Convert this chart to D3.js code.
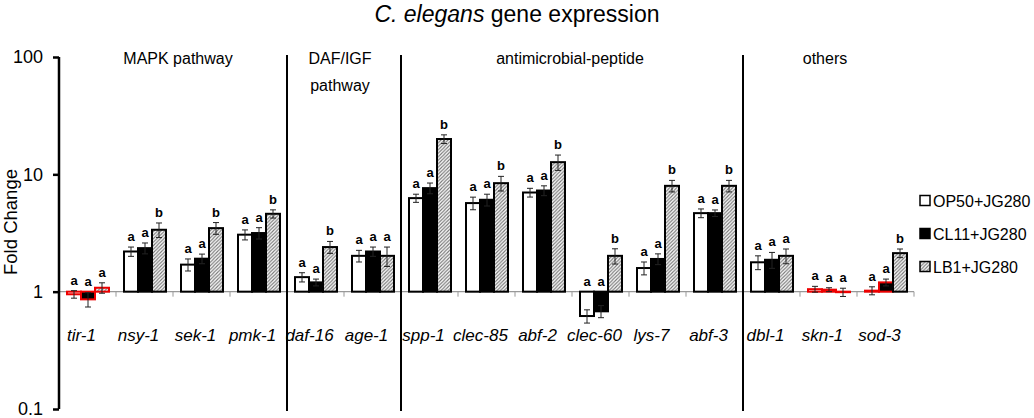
<!DOCTYPE html>
<html lang="en">
<head>
    <meta charset="UTF-8">
    <title>C. elegans gene expression</title>
    <script src="https://d3js.org/d3.v7.min.js"></script>
    <style>
        body { margin: 0; background: #fff; }
        text { font-family: Arial, "Liberation Sans", sans-serif; fill: #000; }
    </style>
</head>
<body>
<script>
    const width = 1034;
    const height = 418;

    // Genes (x categories)
    const genes = ['tir-1', 'nsy-1', 'sek-1', 'pmk-1', 'daf-16', 'age-1', 'spp-1', 'clec-85',
        'abf-2', 'clec-60', 'lys-7', 'abf-3', 'dbl-1', 'skn-1', 'sod-3'];

    // Pathway groups and the gene each one starts at
    const groupNames = ['MAPK pathway', 'DAF/IGF|pathway', 'antimicrobial-peptide', 'others'];
    const groupStarts = ['tir-1', 'daf-16', 'spp-1', 'dbl-1'];

    const seriesNames = ['OP50+JG280', 'CL11+JG280', 'LB1+JG280'];

    // fold change values
    const op50 = [0.95, 2.2, 1.70, 3.06, 1.33, 2.02, 6.27, 5.69, 7.0, 0.62, 1.59, 4.67, 1.78, 1.05, 1.02];
    const cl11 = [0.86, 2.35, 1.91, 3.16, 1.20, 2.20, 7.63, 6.07, 7.28, 0.68, 1.90, 4.67, 1.87, 1.04, 1.20];
    const lb1 = [1.08, 3.37, 3.48, 4.61, 2.40, 2.02, 20.0, 8.41, 12.7, 2.02, 7.98, 7.98, 2.02, 0.99, 2.13];

    // error bars
    const op50Err = [0.07, 0.2, 0.2, 0.3, 0.12, 0.23, 0.5, 0.7, 0.6, 0.08, 0.2, 0.4, 0.24, 0.06, 0.08];
    const cl11Err = [0.12, 0.25, 0.18, 0.35, 0.08, 0.2, 0.8, 0.7, 0.7, 0.08, 0.2, 0.3, 0.29, 0.04, 0.08];
    const lb1Err = [0.11, 0.48, 0.4, 0.37, 0.28, 0.38, 1.7, 1.2, 1.9, 0.3, 0.9, 0.9, 0.29, 0.08, 0.18];

    // significance letters
    const op50Sig = ['a', 'a', 'a', 'a', 'a', 'a', 'a', 'a', 'a', 'a', 'a', 'a', 'a', 'a', 'a'];
    const cl11Sig = ['a', 'a', 'a', 'a', 'a', 'a', 'a', 'a', 'a', 'a', 'a', 'a', 'a', 'a', 'a'];
    const lb1Sig = ['a', 'b', 'b', 'b', 'b', 'a', 'b', 'b', 'b', 'b', 'b', 'b', 'a', 'a', 'b'];

    // bars that are outlined in red in the figure
    const redOutlined = [['tir-1', 0], ['tir-1', 1], ['tir-1', 2], ['skn-1', 0], ['skn-1', 1],
        ['skn-1', 2], ['sod-3', 0], ['sod-3', 1]];

    const values = [op50, cl11, lb1];
    const errors = [op50Err, cl11Err, lb1Err];
    const sigs = [op50Sig, cl11Sig, lb1Sig];

    const bars = [];
    genes.forEach((g, i) => {
        seriesNames.forEach((s, j) => {
            bars.push({
                gene: g, series: s, k: j,
                value: values[j][i], err: errors[j][i], sig: sigs[j][i],
                red: redOutlined.some(r => r[0] === g && r[1] === j)
            });
        });
    });

    const svg = d3.select('body').append('svg')
        .attr('width', width)
        .attr('height', height);

    // hatch for LB1 bars
    const defs = svg.append('defs');
    const pat = defs.append('pattern')
        .attr('id', 'hatch')
        .attr('patternUnits', 'userSpaceOnUse')
        .attr('width', 3.5)
        .attr('height', 3.5);
    pat.append('rect').attr('width', 3.5).attr('height', 3.5).attr('fill', '#fff');
    pat.append('path')
        .attr('d', 'M-1,1 l2,-2 M0,3.5 l3.5,-3.5 M2.5,4.5 l2,-2')
        .attr('stroke', '#777')
        .attr('stroke-width', 1.1);

    const fills = ['#fff', '#000', 'url(#hatch)'];

    // scales
    const x = d3.scaleBand().domain(genes).range([59, 914]);
    const xs = d3.scaleBand().domain(seriesNames).range([8, 50]);
    const y = d3.scaleLog().domain([0.1, 100]).range([409, 57]);

    // title
    const title = svg.append('text')
        .attr('x', 517)
        .attr('y', 22)
        .attr('text-anchor', 'middle')
        .style('font-size', '23px');
    title.append('tspan').style('font-style', 'italic').text('C. elegans');
    title.append('tspan').text('  gene expression');

    // baseline at fold change = 1
    svg.append('line')
        .attr('x1', 59).attr('x2', 914)
        .attr('y1', y(1)).attr('y2', y(1))
        .attr('stroke', '#999').attr('stroke-width', 1.2);

    svg.selectAll('.base-tick')
        .data(genes.slice(1).concat(['end']))
        .enter().append('line')
        .attr('class', 'base-tick')
        .attr('x1', d => d === 'end' ? 914 : x(d))
        .attr('x2', d => d === 'end' ? 914 : x(d))
        .attr('y1', y(1))
        .attr('y2', y(1) + 5)
        .attr('stroke', '#999').attr('stroke-width', 1);

    // group dividers
    svg.selectAll('.divider')
        .data(groupStarts.slice(1))
        .enter().append('line')
        .attr('class', 'divider')
        .attr('x1', d => x(d)).attr('x2', d => x(d))
        .attr('y1', 55).attr('y2', 411)
        .attr('stroke', '#000').attr('stroke-width', 2);

    // group labels
    const groupLabelX = [178, 340, 570, 825];
    groupNames.forEach((name, i) => {
        name.split('|').forEach((ln, k) => {
            svg.append('text')
                .attr('x', groupLabelX[i])
                .attr('y', 64 + k * 27)
                .attr('text-anchor', 'middle')
                .style('font-size', '16px')
                .text(ln);
        });
    });

    // bars
    svg.selectAll('.bar')
        .data(bars)
        .enter().append('rect')
        .attr('class', 'bar')
        .attr('x', d => x(d.gene) + xs(d.series))
        .attr('width', xs.bandwidth())
        .attr('y', d => Math.min(y(d.value), y(1)))
        .attr('height', d => Math.abs(y(d.value) - y(1)))
        .attr('fill', d => fills[d.k])
        .attr('stroke', d => d.red ? '#e00' : '#000')
        .attr('stroke-width', 2);

    // error bars
    const eb = svg.selectAll('.err')
        .data(bars)
        .enter().append('g')
        .attr('class', 'err')
        .attr('transform', d => `translate(${x(d.gene) + xs(d.series) + xs.bandwidth() / 2},0)`);

    eb.append('line')
        .attr('y1', d => y(d.value + d.err))
        .attr('y2', d => y(d.value - d.err))
        .attr('stroke', '#222').attr('stroke-width', 1);
    eb.append('line')
        .attr('x1', -3).attr('x2', 3)
        .attr('y1', d => y(d.value + d.err)).attr('y2', d => y(d.value + d.err))
        .attr('stroke', '#222').attr('stroke-width', 1);
    eb.append('line')
        .attr('x1', -3).attr('x2', 3)
        .attr('y1', d => y(d.value - d.err)).attr('y2', d => y(d.value - d.err))
        .attr('stroke', '#222').attr('stroke-width', 1);

    // significance letters
    eb.append('text')
        .attr('y', d => Math.min(y(d.value + d.err), y(1)) - 6)
        .attr('text-anchor', 'middle')
        .style('font-size', '13px')
        .style('font-weight', 'bold')
        .text(d => d.sig);

    // gene labels
    svg.selectAll('.gene')
        .data(genes)
        .enter().append('text')
        .attr('class', 'gene')
        .attr('x', d => x(d) + x.bandwidth() / 2 - 6)
        .attr('y', 341)
        .attr('text-anchor', 'middle')
        .style('font-size', '17px')
        .style('font-style', 'italic')
        .text(d => d);

    // y axis
    const yAxis = svg.append('g')
        .attr('transform', 'translate(59,0)')
        .call(d3.axisLeft(y).tickValues([0.1, 1, 10, 100]).tickFormat(d3.format('~g')).tickSize(6).tickPadding(10));
    yAxis.select('.domain').attr('stroke', '#000').attr('stroke-width', 2.5)
        .attr('d', 'M0,57V409');
    yAxis.selectAll('.tick line').attr('stroke', '#000').attr('stroke-width', 2.5);
    yAxis.selectAll('.tick text')
        .style('font-size', '18px')
        .style('font-family', 'Arial, "Liberation Sans", sans-serif')
        .attr('fill', '#000');

    svg.append('text')
        .attr('transform', 'translate(17,222) rotate(-90)')
        .attr('text-anchor', 'middle')
        .style('font-size', '18.5px')
        .text('Fold Change');

    // legend
    const legendY = [201, 234, 267];
    const legend = svg.selectAll('.legend')
        .data(seriesNames)
        .enter().append('g')
        .attr('class', 'legend')
        .attr('transform', (d, i) => `translate(920,${legendY[i]})`);
    legend.append('rect')
        .attr('x', 0).attr('y', -5.5)
        .attr('width', 10).attr('height', 10)
        .attr('fill', (d, i) => fills[i])
        .attr('stroke', '#000').attr('stroke-width', 1.5);
    legend.append('text')
        .attr('x', 13).attr('y', 6)
        .style('font-size', '16px')
        .text(d => d);
</script>
</body>
</html>
